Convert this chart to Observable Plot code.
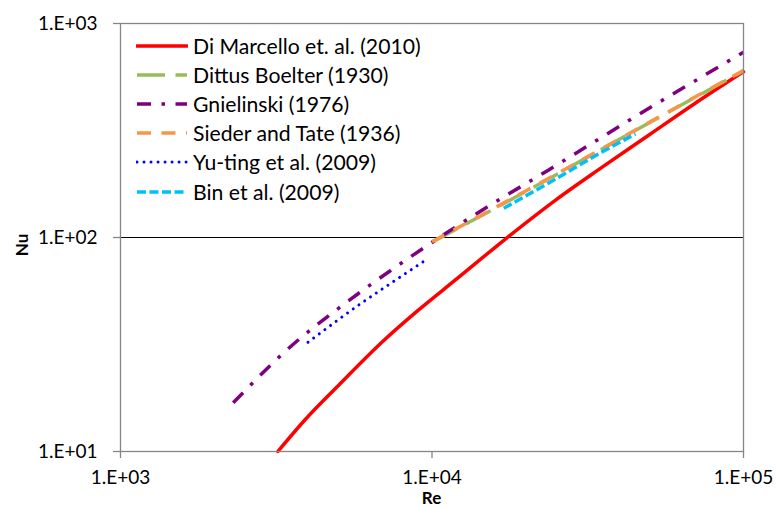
<!DOCTYPE html>
<html><head><meta charset="utf-8">
<script src="https://cdn.jsdelivr.net/npm/d3@7"></script>
<script src="https://cdn.jsdelivr.net/npm/@observablehq/plot@0.6"></script>
<style>
body{margin:0;background:#fff;}
#wrap{position:relative;width:777px;height:508px;font-family:Lato,sans-serif;}
#legend{position:absolute;left:136px;top:31px;}
.item{display:flex;align-items:center;height:29.2px;font-size:21.2px;color:#000;white-space:nowrap;}
.item svg{margin-right:5px;}
.ttl{position:absolute;font-weight:bold;font-size:17px;color:#000;line-height:1;}
</style></head><body><div id="wrap"></div>
<script>
const xTicks = [1e3, 1e4, 1e5];
const yTicks = [10, 100, 1000];
const seriesNames = ["Di Marcello et. al. (2010)", "Dittus Boelter (1930)", "Gnielinski (1976)", "Sieder and Tate (1936)", "Yu-ting et al. (2009)", "Bin et al. (2009)"];
const colors = ["#FF0000", "#9BBB59", "#7F007F", "#F79646", "#0000FF", "#00BFFF"];
const dashes = ["none", "28,10.5", "14,10.5,3.5,10.5", "14,10.5", "0.01,7", "9,3.5"];
const caps = ["round", "butt", "butt", "butt", "round", "butt"];
const widths = [3.5, 3.5, 3.5, 3.5, 3, 3.5];

const reDiMarcello = [3200, 3900, 5000, 7000, 9000, 12000, 17400, 25000, 35000, 50000, 70000, 100000];
const nuDiMarcello = [10, 14, 20.3, 33, 45.5, 64, 99.7, 150, 212, 303, 424, 595];
const reDittus = [10000, 20000, 50000, 100000];
const nuDittus = [95, 164, 345, 600];
const reGnielinski = [2300, 3550, 5200, 8500, 14100, 23700, 50800, 100000];
const nuGnielinski = [16.9, 31.3, 48.6, 80.9, 131, 207, 409, 734];
const reSieder = [10000, 20000, 50000, 100000];
const nuSieder = [95.5, 165, 346, 604];
const reYuting = [4000, 6000, 7200, 9600];
const nuYuting = [32.4, 49.9, 59.7, 78.9];
const reBin = [17000, 25000, 35000, 45000];
const nuBin = [137, 188, 250, 305];

const reAll = [reDiMarcello, reDittus, reGnielinski, reSieder, reYuting, reBin];
const nuAll = [nuDiMarcello, nuDittus, nuGnielinski, nuSieder, nuYuting, nuBin];

const fmt = d => "1.E+0" + Math.round(Math.log10(d));

const lineMarks = seriesNames.map((name, i) => {
  const rows = reAll[i].map((re, j) => ({series: name, Re: re, Nu: nuAll[i][j]}));
  return Plot.line(rows, {x: "Re", y: "Nu", stroke: colors[i], strokeWidth: widths[i],
    strokeDasharray: dashes[i], strokeLinecap: caps[i], strokeLinejoin: "round", curve: "monotone-x"});
});

const chart = Plot.plot({
  width: 777, height: 508,
  marginLeft: 120, marginRight: 34, marginTop: 23, marginBottom: 57,
  style: {fontFamily: "Lato, sans-serif", fontSize: "19px", color: "#000", background: "#fff"},
  x: {type: "log", domain: [1e3, 1e5]},
  y: {type: "log", domain: [10, 1000]},
  marks: [
    Plot.ruleY(yTicks.filter(v => v > 10 && v < 1000), {stroke: "#000", strokeWidth: 1}),
    ...lineMarks,
    Plot.frame({stroke: "#868686", strokeWidth: 1.3}),
    Plot.axisX(xTicks, {tickSize: 7, tickPadding: 12, tickFormat: fmt, stroke: "#868686", strokeWidth: 1.3, fill: "#000", fontSize: 19, label: null}),
    Plot.axisY(yTicks, {tickSize: 7, tickPadding: 16, tickFormat: fmt, stroke: "#868686", strokeWidth: 1.3, fill: "#000", fontSize: 19, label: null})
  ]
});

const wrap = document.getElementById("wrap");
wrap.appendChild(chart);

const legend = document.createElement("div");
legend.id = "legend";
seriesNames.forEach((name, i) => {
  const it = document.createElement("div");
  it.className = "item";
  it.innerHTML = `<svg width="52" height="10"><line x1="1" x2="51" y1="5" y2="5" stroke="${colors[i]}" stroke-width="${widths[i]}" stroke-dasharray="${dashes[i]}" stroke-linecap="${caps[i]}"/></svg><span>${name}</span>`;
  legend.appendChild(it);
});
wrap.appendChild(legend);

const re = document.createElement("div");
re.className = "ttl"; re.textContent = "Re";
re.style.left = "431.5px"; re.style.top = "497px"; re.style.transform = "translate(-50%,-50%)";
wrap.appendChild(re);
const nu = document.createElement("div");
nu.className = "ttl"; nu.textContent = "Nu";
nu.style.left = "21px"; nu.style.top = "245px"; nu.style.transform = "translate(-50%,-50%) rotate(-90deg)";
wrap.appendChild(nu);
</script></body></html>
